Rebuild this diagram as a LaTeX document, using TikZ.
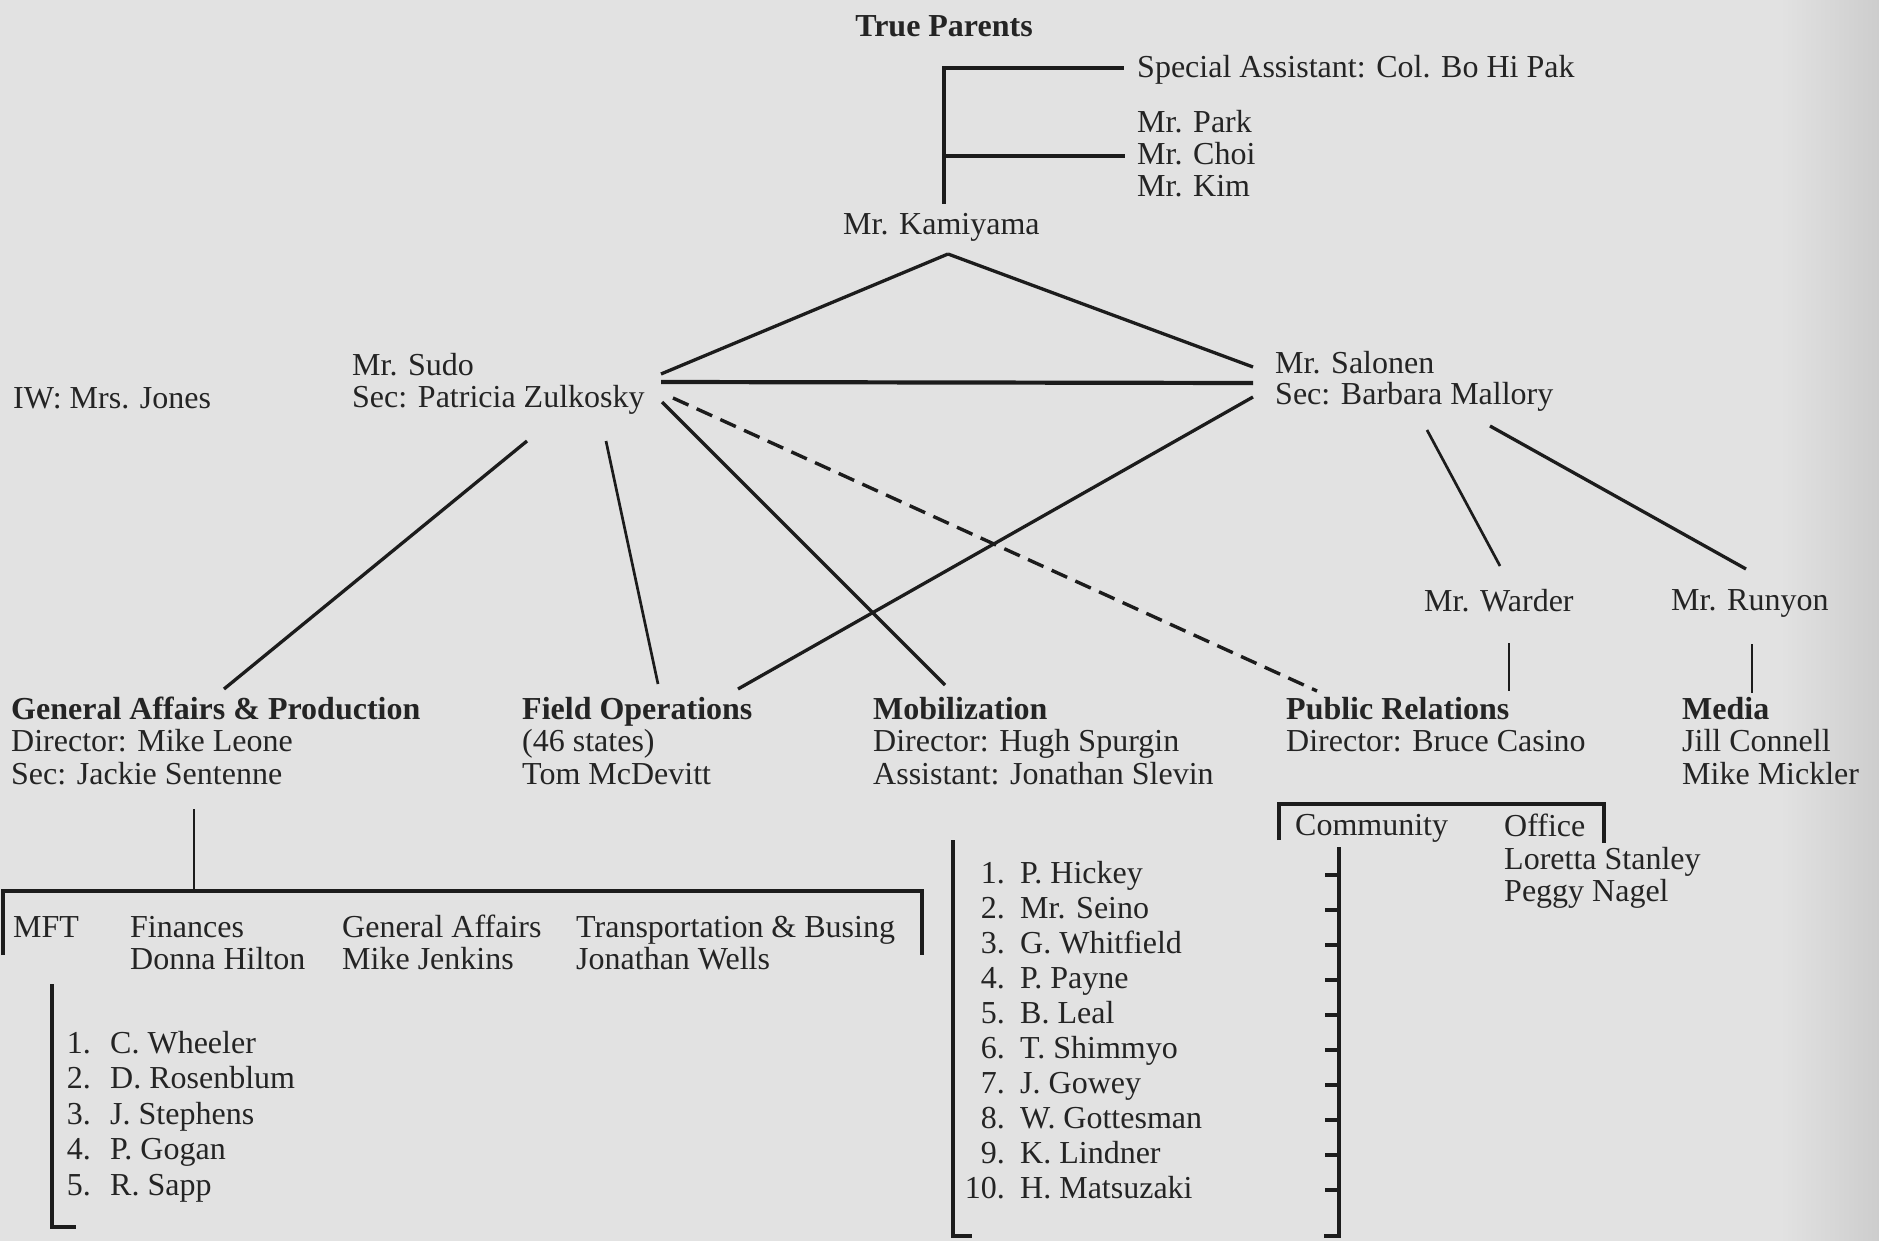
\documentclass[tikz,border=0pt]{standalone}
\usepackage{fontspec}
\setmainfont{Liberation Serif}
\definecolor{bg}{RGB}{226,226,226}
\definecolor{bgdark}{RGB}{205,205,205}
\definecolor{ink}{RGB}{28,28,28}
\definecolor{txtc}{RGB}{36,36,36}
\begin{document}
\begin{tikzpicture}[x=1pt,y=-1pt,
  lbl/.style={anchor=base west, inner sep=0pt, text=txtc, font=\fontsize{32}{33}\selectfont},
  hdr/.style={lbl, font=\fontsize{32}{33}\selectfont\bfseries},
  num/.style={lbl, anchor=base east},
  conn/.style={draw=ink, line width=3.3pt},
  thinconn/.style={draw=ink, line width=2.7pt},
  dashconn/.style={draw=ink, line width=3.4pt, dash pattern=on 17pt off 9pt},
  brk/.style={draw=ink, line width=3.4pt}]
\fill[bg] (0,0) rectangle (1879,1241);
\shade[left color=bg, right color=bgdark] (1780,0) rectangle (1879,1241);
\useasboundingbox (0,0) rectangle (1879,1241);

% ---------- top ----------
\node[hdr, anchor=base] (tp) at (944,37) {True Parents};
\node[lbl] (spa) at (1137,78) {Special Assistant: Col. Bo Hi Pak};
\node[lbl] (park) at (1137,133) {Mr. Park};
\node[lbl] (choi) at (1137,165) {Mr. Choi};
\node[lbl] (kim) at (1137,197) {Mr. Kim};
\node[lbl] (kam) at (843,235) {Mr. Kamiyama};

\coordinate (kamtop) at (944,204);
\coordinate (spine) at (944,68);
\coordinate (spaend) at (1124,68);
\coordinate (spinemid) at (944,156);
\coordinate (choiend) at (1125,156);
\draw[conn] (kamtop) -- (spine) -- (spaend);
\draw[conn] (spinemid) -- (choiend);

% ---------- second level ----------
\node[lbl] (iw) at (13,408) {IW: Mrs. Jones};
\node[lbl] (sudo) at (352,375) {Mr. Sudo};
\node[lbl] (sudosec) at (352,407) {Sec: Patricia Zulkosky};
\node[lbl] (sal) at (1275,373) {Mr. Salonen};
\node[lbl] (salsec) at (1275,404) {Sec: Barbara Mallory};
\node[lbl] (warder) at (1424,611) {Mr. Warder};
\node[lbl] (runyon) at (1671,610) {Mr. Runyon};

\coordinate (apex) at (948,254);
\coordinate (sudoA) at (661,374);
\coordinate (salA) at (1253,367);
\coordinate (sudoB) at (661,382);
\coordinate (salB) at (1253,383);
\coordinate (salC) at (1253,397);
\coordinate (sudoD) at (673,398);
\coordinate (sudoM) at (662,402);
\coordinate (sudoG) at (527,441);
\coordinate (sudoF) at (606,441);
\coordinate (salW) at (1427,430);
\coordinate (salR) at (1490,426);
\coordinate (warT) at (1500,566);
\coordinate (runT) at (1746,569);
\coordinate (warB) at (1509,643);
\coordinate (runB) at (1752,644);

% ---------- departments ----------
\node[hdr] (ga) at (11,719) {General Affairs \& Production};
\node[lbl] (ga2) at (11,751) {Director: Mike Leone};
\node[lbl] (ga3) at (11,784) {Sec: Jackie Sentenne};
\node[hdr] (fo) at (522,719) {Field Operations};
\node[lbl] (fo2) at (522,751) {(46 states)};
\node[lbl] (fo3) at (522,784) {Tom McDevitt};
\node[hdr] (mob) at (873,719) {Mobilization};
\node[lbl] (mob2) at (873,751) {Director: Hugh Spurgin};
\node[lbl] (mob3) at (873,784) {Assistant: Jonathan Slevin};
\node[hdr] (pr) at (1286,719) {Public Relations};
\node[lbl] (pr2) at (1286,751) {Director: Bruce Casino};
\node[hdr] (media) at (1682,719) {Media};
\node[lbl] (media2) at (1682,751) {Jill Connell};
\node[lbl] (media3) at (1682,784) {Mike Mickler};

\coordinate (gaT) at (224,689);
\coordinate (foT) at (658,684);
\coordinate (foT2) at (738,689);
\coordinate (mobT) at (945,685);
\coordinate (prT) at (1317,691);
\coordinate (prT2) at (1509,691);
\coordinate (mediaT) at (1752,693);

\draw[conn] (apex) -- (sudoA);
\draw[conn] (apex) -- (salA);
\draw[line width=4.2pt, draw=ink] (sudoB) -- (salB);
\draw[conn] (salC) -- (foT2);
\draw[dashconn] (sudoD) -- (prT);
\draw[conn] (sudoM) -- (mobT);
\draw[conn] (sudoG) -- (gaT);
\draw[thinconn] (sudoF) -- (foT);
\draw[thinconn] (salW) -- (warT);
\draw[conn] (salR) -- (runT);
\draw[thinconn] (warB) -- (prT2);
\draw[thinconn] (runB) -- (mediaT);

% ---------- General Affairs sub-units ----------
\coordinate (gaB) at (194,809);
\coordinate (gaJ) at (194,891);
\draw[thinconn] (gaB) -- (gaJ);
\coordinate (bl1) at (3,955);
\coordinate (bl2) at (3,891);
\coordinate (br2) at (922,891);
\coordinate (br1) at (922,955);
\draw[brk] (bl1) -- (bl2) -- (br2) -- (br1);

\node[lbl] (mft) at (13,937) {MFT};
\node[lbl] (fin) at (130,937) {Finances};
\node[lbl] (fin2) at (130,969) {Donna Hilton};
\node[lbl] (gaf) at (342,937) {General Affairs};
\node[lbl] (gaf2) at (342,969) {Mike Jenkins};
\node[lbl] (tb) at (576,937) {Transportation \& Busing};
\node[lbl] (tb2) at (576,969) {Jonathan Wells};

\coordinate (mftT) at (52,984);
\coordinate (mftB) at (52,1227);
\coordinate (mftF) at (76,1227);
\draw[brk] (mftT) -- (mftB) -- (mftF);
\foreach \n/\name [count=\i from 0] in {1/C. Wheeler,2/D. Rosenblum,3/J. Stephens,4/P. Gogan,5/R. Sapp}{
  \node[num] (mftn\n) at (91,1053+35.5*\i) {\n.};
  \node[lbl] (mftm\n) at (110,1053+35.5*\i) {\name};
}

% ---------- Mobilization list ----------
\coordinate (mobLT) at (953,840);
\coordinate (mobLB) at (953,1236);
\coordinate (mobLF) at (972,1236);
\draw[brk] (mobLT) -- (mobLB) -- (mobLF);
\foreach \n/\name [count=\i from 0] in {1/P. Hickey,2/Mr. Seino,3/G. Whitfield,4/P. Payne,5/B. Leal,6/T. Shimmyo,7/J. Gowey,8/W. Gottesman,9/K. Lindner,10/H. Matsuzaki}{
  \node[num] (mobn\n) at (1005,883+35*\i) {\n.};
  \node[lbl] (mobm\n) at (1020,883+35*\i) {\name};
}

% ---------- Public Relations sub-units ----------
\coordinate (cl1) at (1279,840);
\coordinate (cl2) at (1279,804);
\coordinate (cr2) at (1604,804);
\coordinate (cr1) at (1604,843);
\draw[brk] (cl1) -- (cl2) -- (cr2) -- (cr1);
\node[lbl] (comm) at (1295,835) {Community};
\node[lbl] (office) at (1504,836) {Office};
\node[lbl] (lor) at (1504,869) {Loretta Stanley};
\node[lbl] (peg) at (1504,901) {Peggy Nagel};

\coordinate (cvT) at (1339,847);
\coordinate (cvB) at (1339,1236);
\coordinate (cvF) at (1324,1236);
\draw[brk] (cvT) -- (cvB) -- (cvF);
\foreach \i in {0,...,9}{
  \coordinate (tk\i a) at (1325,875+35*\i);
  \coordinate (tk\i b) at (1339,875+35*\i);
  \draw[brk] (tk\i a) -- (tk\i b);
}
\end{tikzpicture}
\end{document}
